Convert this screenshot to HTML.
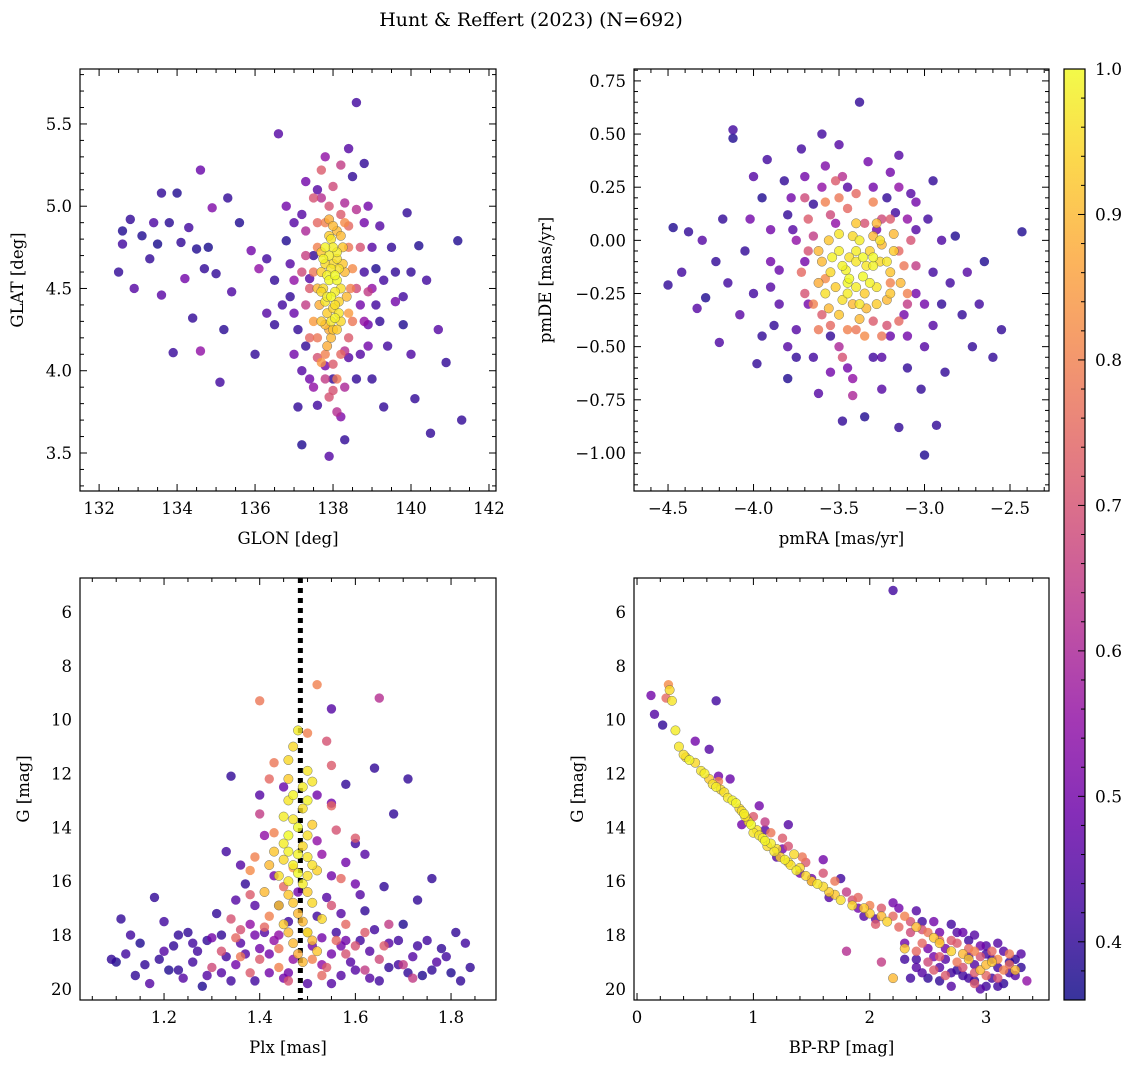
<!DOCTYPE html>
<html><head><meta charset="utf-8"><style>
html,body{margin:0;padding:0;background:#fff;}
svg{display:block;font-family:"DejaVu Serif","Liberation Serif",serif;}
</style></head><body>
<svg id="fig" width="1136" height="1068" viewBox="0 0 1136 1068" xmlns="http://www.w3.org/2000/svg">
<text x="531" y="26" font-size="19" text-anchor="middle">Hunt &amp; Reffert (2023) (N=692)</text>
</svg>
<script>
// ---- data (x, y, membership probability) ----
const tlStars = [[132.5,4.6,.4],[132.6,4.85,.38],[132.6,4.77,.42],[132.8,4.92,.4],[132.9,4.5,.45],[133.1,4.82,.38],[133.3,4.68,.4],[133.4,4.9,.44],[133.5,4.77,.37],[133.6,5.08,.4],[133.6,4.46,.46],[133.8,4.9,.39],[133.9,4.11,.41],[134.0,5.08,.38],[134.1,4.78,.4],[134.2,4.56,.5],[134.3,4.87,.42],[134.4,4.32,.4],[134.5,4.74,.38],[134.6,5.22,.48],[134.6,4.12,.55],[134.7,4.62,.4],[134.8,4.75,.37],[134.9,4.99,.52],[135.0,4.59,.4],[135.1,3.93,.42],[135.2,4.25,.39],[135.3,5.05,.4],[135.4,4.48,.44],[135.6,4.9,.38],[135.9,4.73,.5],[136.0,4.1,.4],[136.1,4.62,.55],[136.3,4.68,.42],[136.5,4.28,.4],[136.6,5.44,.45],[136.8,4.79,.38],[136.9,4.45,.4],[137.0,4.35,.48],[137.1,3.78,.4],[137.2,3.55,.38],[137.2,4.95,.45],[137.3,4.15,.4],[137.5,3.9,.55],[137.6,3.79,.42],[137.8,4.03,.5],[137.9,3.48,.45],[138.0,3.95,.4],[138.2,3.72,.52],[138.3,3.58,.4],[138.4,4.08,.45],[138.5,5.18,.4],[138.6,5.63,.42],[138.8,5.26,.4],[138.9,4.28,.48],[139.0,3.95,.4],[139.1,4.62,.38],[139.2,4.88,.45],[139.3,3.78,.4],[139.4,4.15,.42],[139.5,4.75,.4],[139.6,4.42,.5],[139.8,4.28,.38],[139.9,4.96,.4],[140.0,4.1,.44],[140.1,3.83,.4],[140.2,4.76,.38],[140.4,4.55,.42],[140.5,3.62,.4],[140.7,4.25,.45],[140.9,4.05,.4],[141.2,4.79,.38],[141.3,3.7,.4],[137.4,4.56,.45],[137.5,4.7,.4],[138.7,4.4,.5],[138.8,4.6,.42],[139.0,4.5,.55],[137.1,4.25,.4],[136.9,4.65,.45],[139.2,4.3,.4],[138.9,5.0,.5],[137.6,5.1,.45],[138.6,3.95,.4],
[137.3,4.4,.65],[137.5,5.05,.7],[137.7,5.22,.72],[138.0,5.12,.68],[138.3,5.02,.6],[138.6,4.98,.62],[138.7,4.75,.7],[138.9,4.48,.65],[137.4,4.2,.75],[137.6,4.08,.7],[138.0,4.04,.72],[138.3,4.12,.62],[138.5,4.3,.78],[137.2,4.6,.68],[137.3,4.85,.6],[137.9,3.84,.7],[138.2,5.25,.65],[137.8,4.9,.8],[138.4,4.88,.75],[138.5,4.62,.82],[137.5,4.3,.85],[138.1,3.95,.78],
[137.7,4.3,.92],[137.8,4.42,.97],[137.9,4.55,1],[138.0,4.65,.95],[138.1,4.72,.98],[137.7,4.6,.93],[137.8,4.75,.99],[138.2,4.5,.96],[138.3,4.6,.9],[138.0,4.38,.94],[137.9,4.25,.88],[138.2,4.3,.95],[137.6,4.5,.9],[138.1,4.55,1],[137.95,4.8,.97],[138.25,4.75,.92],[137.75,4.68,.99],[138.05,4.48,.98],[137.85,4.35,.93],[138.15,4.62,.96],[137.65,4.4,.88],[138.35,4.45,.9],[137.9,4.7,.98],[138.0,4.25,.92],[138.1,4.85,.9]];
const tlExtra = [[136.8,5.0,.5],[137.0,4.9,.45],[136.7,4.4,.42],[137.0,4.1,.5],[137.2,4.0,.45],[137.4,3.95,.5],[138.7,4.1,.45],[138.9,4.15,.5],[139.1,4.4,.42],[139.0,4.75,.45],[138.8,4.9,.5],[139.3,4.55,.42],[136.5,4.55,.4],[136.3,4.35,.45],[139.6,4.6,.4],[139.8,4.45,.42],[140.0,4.6,.4],[137.0,4.55,.55],[138.8,4.3,.55],[137.3,5.15,.5],[138.4,5.35,.45],[137.8,5.3,.55],
[137.4,4.5,.72],[137.5,4.6,.78],[137.6,4.75,.8],[137.6,4.9,.75],[137.9,5.0,.7],[138.2,4.95,.72],[138.4,4.75,.78],[138.45,4.5,.8],[138.4,4.2,.72],[138.2,4.1,.75],[137.8,4.1,.8],[137.6,4.2,.78],[138.6,4.5,.68],[137.3,4.7,.66],[138.0,3.88,.7],[138.1,3.75,.62],[137.8,3.95,.65],[138.3,3.9,.6],[137.7,5.05,.62],[138.3,4.9,.82],[137.7,4.05,.84],[138.4,4.35,.85],
[137.95,4.3,.97],[138.05,4.32,.99],[137.85,4.45,.98],[137.95,4.45,1],[138.05,4.4,.96],[138.15,4.42,.94],[137.85,4.58,.99],[137.95,4.62,.97],[138.05,4.58,1],[137.8,4.65,.95],[138.0,4.75,.98],[138.1,4.68,.96],[137.9,4.82,.93],[138.0,4.88,.9],[137.75,4.5,.95],[138.25,4.65,.92],[137.8,4.28,.9],[138.1,4.25,.93],[137.95,4.2,.9],[137.85,4.15,.88],[138.15,4.35,.97],[137.7,4.72,.92],[138.2,4.82,.9],[137.9,4.92,.88],[137.7,4.48,.95]];

const trStars = [[-4.5,-0.21,.4],[-4.47,0.06,.38],[-4.42,-0.15,.42],[-4.38,0.04,.4],[-4.33,-0.32,.45],[-4.28,-0.27,.38],[-4.22,-0.1,.4],[-4.2,-0.48,.44],[-4.18,0.1,.4],[-4.12,0.52,.42],[-4.12,0.48,.38],[-4.08,-0.35,.46],[-4.05,-0.05,.4],[-4.02,0.1,.5],[-3.98,-0.58,.4],[-3.95,0.2,.38],[-3.92,0.38,.42],[-3.88,-0.4,.4],[-3.85,-0.14,.48],[-3.82,0.28,.4],[-3.8,-0.65,.38],[-3.77,0.05,.45],[-3.75,-0.55,.4],[-3.72,0.43,.42],[-3.68,-0.3,.5],[-3.65,0.17,.4],[-3.62,-0.72,.45],[-3.58,0.35,.52],[-3.55,-0.45,.4],[-3.52,0.08,.55],[-3.48,-0.85,.4],[-3.45,0.25,.45],[-3.42,-0.65,.55],[-3.38,0.65,.4],[-3.35,-0.83,.38],[-3.33,0.37,.5],[-3.3,-0.55,.42],[-3.28,0.05,.5],[-3.25,-0.7,.45],[-3.22,0.2,.4],[-3.2,-0.45,.48],[-3.17,0.13,.42],[-3.15,-0.88,.4],[-3.12,-0.35,.5],[-3.1,-0.6,.4],[-3.08,0.22,.45],[-3.05,-0.25,.5],[-3.02,-0.7,.4],[-3.0,-1.01,.38],[-2.98,0.1,.42],[-2.95,-0.4,.45],[-2.93,-0.87,.4],[-2.9,0.0,.44],[-2.88,-0.62,.4],[-2.85,-0.2,.42],[-2.82,0.02,.38],[-2.78,-0.35,.4],[-2.75,-0.15,.45],[-2.72,-0.5,.4],[-2.68,-0.3,.42],[-2.65,-0.1,.38],[-2.6,-0.55,.4],[-2.55,-0.42,.4],[-2.43,0.04,.38],[-3.9,-0.22,.45],[-3.7,-0.1,.5],[-3.6,0.5,.42],[-3.15,0.4,.45],[-3.8,0.12,.4],[-4.0,-0.25,.42],[-2.95,0.28,.4],[-3.05,0.18,.5],
[-3.7,-0.25,.7],[-3.65,0.02,.65],[-3.6,-0.35,.72],[-3.55,0.12,.68],[-3.5,-0.5,.6],[-3.45,0.15,.75],[-3.4,-0.42,.78],[-3.35,0.08,.7],[-3.3,-0.38,.72],[-3.25,0.1,.68],[-3.2,-0.2,.8],[-3.15,-0.05,.75],[-3.1,-0.3,.65],[-3.58,-0.18,.82],[-3.22,-0.4,.7],[-3.48,0.3,.62],[-3.42,-0.73,.6],[-3.68,-0.05,.7],[-3.05,-0.12,.65],
[-3.55,-0.15,.95],[-3.5,-0.05,.98],[-3.45,-0.2,1],[-3.4,-0.1,.97],[-3.35,-0.25,.93],[-3.3,-0.12,.99],[-3.25,-0.02,.9],[-3.2,-0.15,.92],[-3.48,-0.28,.96],[-3.38,0.0,.98],[-3.32,-0.05,.94],[-3.42,-0.3,.9],[-3.52,-0.22,.93],[-3.28,-0.22,.97],[-3.6,-0.1,.9],[-3.36,-0.17,1],[-3.44,-0.08,.96],[-3.22,-0.28,.9],[-3.18,-0.05,.93],[-3.56,0.0,.92],[-3.3,0.02,.9],[-3.46,-0.14,.99],[-3.26,-0.1,.95],[-3.4,-0.22,.98],[-3.34,-0.32,.9],[-3.62,-0.2,.88],[-3.14,-0.2,.9]];
const trExtra = [[-4.3,0.0,.45],[-4.15,-0.2,.42],[-4.0,0.3,.45],[-3.95,-0.45,.4],[-3.9,0.05,.5],[-3.85,-0.3,.45],[-3.78,0.2,.5],[-3.75,-0.42,.45],[-3.7,0.3,.5],[-3.65,-0.55,.42],[-3.6,0.25,.55],[-3.5,0.45,.45],[-3.45,-0.6,.5],[-3.3,0.25,.5],[-3.25,-0.55,.45],[-3.15,0.25,.55],[-3.1,-0.45,.5],[-3.05,0.05,.45],[-3.0,-0.3,.5],[-2.95,-0.15,.42],[-3.0,-0.5,.45],[-2.9,-0.3,.4],[-3.9,-0.1,.5],[-3.8,-0.5,.45],[-3.1,0.1,.55],[-3.75,0.0,.55],[-3.55,-0.62,.5],[-3.2,0.32,.5],
[-3.72,-0.15,.75],[-3.68,0.1,.72],[-3.62,-0.42,.78],[-3.58,0.18,.8],[-3.5,0.2,.78],[-3.4,0.22,.75],[-3.3,0.18,.8],[-3.2,0.1,.72],[-3.12,-0.12,.78],[-3.1,-0.25,.8],[-3.15,-0.38,.75],[-3.25,-0.45,.78],[-3.35,-0.45,.82],[-3.45,-0.42,.8],[-3.55,-0.4,.75],[-3.65,-0.3,.8],[-3.08,0.0,.7],[-3.48,-0.55,.7],[-3.7,0.2,.68],[-3.52,0.28,.72],
[-3.58,-0.25,.96],[-3.54,-0.08,.99],[-3.5,0.03,.97],[-3.45,-0.25,.98],[-3.42,0.02,.95],[-3.38,-0.3,.97],[-3.36,-0.08,1],[-3.32,-0.2,.99],[-3.28,-0.3,.93],[-3.26,0.0,.96],[-3.22,-0.1,.97],[-3.2,-0.25,.92],[-3.48,-0.12,.99],[-3.44,-0.18,1],[-3.4,-0.05,.98],[-3.34,-0.12,.97],[-3.5,-0.35,.92],[-3.38,-0.37,.9],[-3.3,-0.08,1],[-3.62,-0.05,.9],[-3.18,0.03,.9],[-3.4,0.08,.92],[-3.28,0.08,.9],[-3.56,-0.32,.9]];

const blStars = [[1.09,18.9,.4],[1.1,19.0,.38],[1.11,17.4,.4],[1.12,18.7,.42],[1.14,19.5,.4],[1.15,18.3,.38],[1.17,19.8,.45],[1.18,16.6,.4],[1.19,18.9,.4],[1.2,17.5,.42],[1.21,19.3,.38],[1.22,18.4,.4],[1.24,19.6,.45],[1.25,17.9,.4],[1.27,18.6,.42],[1.28,19.9,.38],[1.3,18.1,.5],[1.31,17.2,.4],[1.32,19.4,.45],[1.33,18.8,.42],[1.34,12.1,.4],[1.35,19.1,.5],[1.36,18.3,.45],[1.37,16.1,.4],[1.38,17.6,.55],[1.39,19.7,.42],[1.4,18.5,.5],[1.41,14.3,.55],[1.41,17.9,.45],[1.42,19.4,.5],[1.43,18.2,.55],[1.44,16.9,.45],[1.45,19.6,.5],[1.46,17.5,.42],[1.47,18.9,.55],[1.5,19.8,.45],[1.51,18.4,.5],[1.52,17.3,.42],[1.53,19.1,.55],[1.54,16.6,.45],[1.55,18.7,.5],[1.56,17.9,.42],[1.57,19.5,.45],[1.58,12.4,.4],[1.58,18.2,.5],[1.6,14.6,.42],[1.6,19.3,.45],[1.62,17.1,.4],[1.63,18.6,.45],[1.64,11.8,.4],[1.65,19.7,.42],[1.66,16.2,.4],[1.67,18.3,.45],[1.68,13.5,.4],[1.69,19.1,.42],[1.7,17.6,.38],[1.71,12.2,.4],[1.72,18.8,.45],[1.73,16.7,.4],[1.74,19.5,.38],[1.75,18.2,.42],[1.76,15.9,.4],[1.77,19.0,.45],[1.78,18.5,.4],[1.8,19.4,.38],[1.81,17.9,.4],[1.83,18.3,.42],[1.84,19.2,.4],[1.55,9.6,.45],[1.52,12.8,.5],[1.45,12.5,.48],[1.53,15.0,.55],[1.48,16.4,.5],[1.36,15.4,.45],[1.58,15.3,.5],[1.61,16.5,.45],[1.29,18.2,.4],[1.26,19.0,.42],[1.23,18.0,.4],
[1.4,9.3,.78],[1.52,8.7,.8],[1.65,9.2,.62],[1.43,11.6,.78],[1.55,11.7,.72],[1.4,13.5,.65],[1.6,14.4,.72],[1.38,15.6,.82],[1.45,16.2,.75],[1.55,16.9,.7],[1.42,17.3,.8],[1.35,18.1,.75],[1.4,18.9,.72],[1.5,17.9,.78],[1.58,18.7,.7],[1.65,18.9,.68],[1.7,19.1,.65],[1.62,17.9,.72],[1.36,17.8,.7],[1.44,19.2,.8],[1.53,19.5,.75],[1.32,18.6,.7],[1.47,15.5,.85],[1.5,10.5,.8],[1.56,14.1,.7],[1.66,18.4,.72],[1.72,19.6,.65],[1.3,19.2,.68],
[1.48,10.4,.98],[1.46,11.5,.95],[1.5,11.9,.97],[1.47,12.8,.99],[1.49,13.3,.96],[1.45,13.6,.98],[1.51,13.9,.93],[1.46,14.3,1],[1.49,14.7,.95],[1.43,14.9,.92],[1.5,15.1,.97],[1.47,15.4,.99],[1.52,15.6,.94],[1.44,15.8,.96],[1.49,16.1,.98],[1.46,16.5,.92],[1.51,16.8,.95],[1.48,17.2,.9],[1.45,17.6,.93],[1.5,17.9,.97],[1.47,18.3,.9],[1.52,18.6,.92],[1.49,19.0,.9],[1.46,13.0,.97],[1.48,14.0,1],[1.5,15.8,.96],[1.44,16.9,.93],[1.53,17.4,.95],[1.42,15.4,.9],[1.41,16.4,.9]];
const blExtra = [[1.13,18.0,.42],[1.16,19.1,.4],[1.2,18.6,.45],[1.23,19.3,.4],[1.26,18.3,.42],[1.29,19.5,.45],[1.32,18.0,.4],[1.34,19.7,.42],[1.37,18.7,.45],[1.39,18.0,.5],[1.42,18.7,.5],[1.44,18.0,.55],[1.46,19.4,.5],[1.53,18.1,.5],[1.55,19.8,.45],[1.57,18.4,.5],[1.59,19.0,.45],[1.61,18.2,.42],[1.63,19.6,.45],[1.64,17.8,.42],[1.67,19.2,.4],[1.69,18.2,.42],[1.71,19.4,.4],[1.73,18.4,.42],[1.76,19.3,.4],[1.79,18.8,.42],[1.82,19.7,.4],[1.55,15.8,.5],[1.57,17.2,.45],[1.43,15.8,.5],[1.39,16.9,.45],[1.6,16.1,.5],[1.52,14.5,.55],[1.4,12.8,.45],[1.55,13.1,.5],[1.62,15.0,.45],[1.35,16.7,.45],[1.33,14.9,.42],
[1.38,16.5,.72],[1.41,17.7,.75],[1.44,18.5,.78],[1.56,18.2,.75],[1.54,19.2,.72],[1.6,18.4,.7],[1.62,19.3,.65],[1.38,19.4,.72],[1.46,19.7,.7],[1.57,15.9,.75],[1.43,14.2,.8],[1.55,13.2,.75],[1.39,15.1,.8],[1.58,17.6,.75],[1.34,17.4,.7],[1.67,17.6,.65],[1.42,12.2,.75],[1.54,10.8,.7],[1.36,18.8,.78],[1.51,18.9,.8],
[1.47,11.0,.95],[1.51,12.3,.97],[1.46,12.2,.93],[1.5,13.0,.99],[1.47,13.7,.97],[1.5,14.3,.96],[1.45,14.6,.98],[1.48,15.0,.99],[1.45,15.2,.95],[1.51,15.4,.96],[1.48,15.7,1],[1.46,16.0,.97],[1.5,16.4,.93],[1.47,16.8,.92],[1.49,17.5,.9],[1.51,18.2,.9],[1.46,17.9,.9],[1.48,18.7,.88],[1.49,12.5,.98],[1.46,14.9,.99]];

const brStars = [[0.28,8.9,.95],[0.3,9.3,.97],[0.33,10.4,.98],[0.4,11.3,.96],[0.45,11.5,.99],[0.5,11.6,.95],[0.55,11.9,.97],[0.62,12.2,.93],[0.68,12.5,.98],[0.75,12.7,.96],[0.82,13.0,.99],[0.88,13.3,.95],[0.93,13.6,.97],[0.98,13.9,1],[1.03,14.1,.96],[1.08,14.4,.98],[1.12,14.7,.95],[1.18,14.9,.97],[1.23,15.1,.93],[1.3,15.3,.96],[1.37,15.6,.98],[1.45,15.8,.95],[1.55,16.1,.97],[1.65,16.4,.93],[1.75,16.7,.96],[1.85,16.9,.95],[2.0,17.2,.93],[2.15,17.5,.94],[2.3,18.5,.92],[2.2,19.6,.9],[2.55,18.1,.92],[2.7,18.6,.94],[2.85,18.9,.93],[2.95,19.3,.9],[3.05,19.0,.92],[3.25,19.3,.9],[1.0,14.2,.97],[1.15,14.6,.98],[0.9,13.4,.96],[1.35,15.0,.95],
[0.27,8.7,.82],[0.25,9.2,.75],[0.7,12.3,.8],[0.95,13.7,.7],[1.1,13.8,.65],[1.25,14.4,.72],[1.42,15.1,.78],[1.6,15.7,.7],[1.9,16.6,.75],[2.1,17.0,.72],[2.3,17.3,.8],[2.45,17.8,.7],[2.6,18.2,.78],[2.75,18.3,.72],[2.9,18.6,.8],[3.0,19.5,.75],[3.1,18.9,.82],[3.2,18.7,.78],[2.8,19.2,.7],[2.65,19.5,.72],[2.5,19.0,.68],[2.4,18.6,.75],[1.8,16.4,.65],[1.5,16.0,.7],[2.05,17.6,.72],[2.35,17.9,.68],[2.9,19.8,.72],[3.15,19.3,.8],
[0.12,9.1,.5],[0.15,9.8,.45],[0.22,10.2,.4],[0.5,10.8,.5],[0.68,9.3,.42],[0.62,11.1,.45],[0.8,12.2,.48],[1.05,13.2,.5],[1.3,13.9,.45],[1.6,15.2,.5],[1.75,15.9,.42],[1.8,18.6,.62],[2.1,19.0,.65],[2.2,5.2,.42],[2.2,16.8,.5],[2.4,17.1,.45],[2.55,17.5,.5],[2.7,17.6,.42],[2.8,17.9,.48],[2.9,18.0,.45],[2.95,18.4,.5],[3.0,18.7,.42],[3.1,18.3,.45],[3.2,19.0,.4],[3.3,18.7,.45],[3.35,19.7,.55],[2.85,19.6,.42],[2.7,19.9,.45],[2.6,19.7,.4],[2.45,19.4,.45],[2.4,18.9,.42],[2.3,18.3,.5],[2.65,18.9,.45],[2.75,19.3,.4],[2.95,20.0,.45],[3.05,19.6,.42],[3.15,19.8,.4],[3.25,19.5,.45],[2.5,18.5,.5],[2.35,19.6,.42],[1.95,17.3,.45],[1.5,15.9,.5],[1.2,15.1,.45],[0.9,13.9,.5],[2.9,19.1,.45],[3.1,19.9,.42]];
const brExtra = [[0.36,11.0,.97],[0.42,11.4,.95],[0.58,12.0,.98],[0.65,12.4,.96],[0.78,12.9,.97],[0.85,13.1,.99],[0.92,13.5,.98],[0.96,13.8,.96],[1.05,14.3,.97],[1.1,14.5,.99],[1.2,14.8,.96],[1.27,15.2,.98],[1.4,15.5,.95],[1.5,16.0,.93],[1.6,16.2,.95],[1.7,16.5,.92],[1.95,17.0,.93],[2.1,17.3,.9],[2.4,17.7,.9],[2.6,18.3,.92],[2.8,18.7,.9],[3.0,19.1,.9],[0.72,12.6,.95],[1.32,15.4,.96],
[1.0,13.6,.72],[1.15,14.2,.78],[1.3,14.7,.7],[1.45,15.3,.72],[1.7,16.0,.78],[2.0,16.9,.8],[2.2,17.3,.75],[2.35,17.5,.7],[2.5,17.9,.78],[2.7,18.2,.72],[2.85,18.5,.75],[2.95,18.8,.7],[3.05,18.6,.75],[2.6,18.8,.72],[2.75,19.0,.78],[2.9,19.4,.72],[3.1,19.6,.7],[2.45,18.3,.75],[2.55,19.3,.72],[3.2,19.1,.75],[1.85,16.7,.7],[2.25,17.7,.75],
[1.4,15.7,.5],[1.65,16.6,.45],[1.9,17.0,.5],[2.05,17.4,.45],[2.25,17.0,.5],[2.45,17.5,.42],[2.6,17.9,.5],[2.75,17.9,.45],[2.85,18.2,.42],[3.0,18.4,.45],[3.05,18.9,.42],[3.15,18.6,.45],[3.2,19.4,.42],[3.3,19.2,.4],[2.8,19.5,.42],[2.6,19.2,.45],[2.5,19.6,.4],[2.7,19.4,.42],[2.9,19.7,.4],[3.0,19.9,.42],[2.4,19.2,.45],[2.3,18.9,.42],[2.55,18.8,.5],[2.85,18.8,.45],[3.1,19.2,.42],[1.25,14.8,.5],[1.1,14.1,.45],[0.7,12.1,.5],[2.65,18.5,.5],[3.25,18.9,.4]];

const tlXTicks = [132,134,136,138,140,142];
const tlYTicks = [3.5,4.0,4.5,5.0,5.5];
const trXTicks = [-4.5,-4.0,-3.5,-3.0,-2.5];
const trYTicks = [-1.0,-0.75,-0.5,-0.25,0.0,0.25,0.5,0.75];
const blXTicks = [1.2,1.4,1.6,1.8];
const gTicks = [6,8,10,12,14,16,18,20];
const brXTicks = [0,1,2,3];
const cbTicks = [0.4,0.5,0.6,0.7,0.8,0.9,1.0];
const plxMean = [1.485];

const svg = document.getElementById('fig');
const NS = 'http://www.w3.org/2000/svg';
function mk(tag, attrs, parent){
  const e = document.createElementNS(NS, tag);
  for (const k in attrs) e.setAttribute(k, attrs[k]);
  (parent||svg).appendChild(e);
  return e;
}
const PMIN = 0.36, PMAX = 1.0;
const stops = ['#0d0887','#41049d','#6a00a8','#8f0da4','#b12a90','#cc4778','#e16462','#f2844b','#fca636','#fcce25','#f0f921'];
function hex(h){return [parseInt(h.slice(1,3),16),parseInt(h.slice(3,5),16),parseInt(h.slice(5,7),16)];}
function plasma(t){
  t = Math.max(0,Math.min(1,t))*10; const i = Math.min(9,Math.floor(t)); const f = t-i;
  const a = hex(stops[i]), b = hex(stops[i+1]);
  return 'rgb('+a.map((v,k)=>Math.round(v+(b[k]-v)*f)).join(',')+')';
}
function fmt(v, d){ const s = v.toFixed(d); return s.replace('-', '\u2212'); }

function panel(o){
  const g = mk('g', {});
  
  
  const sx = v => o.x0 + (v - o.xmin)/(o.xmax - o.xmin)*(o.x1 - o.x0);
  const sy = v => o.y1 - (v - o.ymin)/(o.ymax - o.ymin)*(o.y1 - o.y0);
  const clipId = o.name + '-clip';
  const cp = mk('clipPath', {id: clipId}, g);
  mk('rect', {x:o.x0, y:o.y0, width:o.x1-o.x0, height:o.y1-o.y0}, cp);
  const pts = mk('g', {'clip-path':'url(#'+clipId+')'}, g);
  
  
  const data = o.data.slice().sort((a,b)=>a[2]-b[2]);
  data.forEach(d => {
    const t = (d[2]-PMIN)/(PMAX-PMIN);
    const c = mk('circle', {cx:sx(d[0]), cy:sy(d[1]), r:4.7, fill:plasma(t), 'fill-opacity':0.8,
      stroke: d[2] > 0.85 ? '#555' : 'none', 'stroke-width':0.4});
    
    
  });
  if (o.vline) o.vline.forEach(v => {
    const l = mk('line', {x1:sx(v), x2:sx(v), y1:o.y0, y2:o.y1, stroke:'#000', 'stroke-width':5, 'stroke-dasharray':'5 5'}, pts);
    
    
  });
  const frame = mk('rect', {x:o.x0, y:o.y0, width:o.x1-o.x0, height:o.y1-o.y0, fill:'none', stroke:'#000', 'stroke-width':1.2}, g);
  
  
  const tk = mk('g', {stroke:'#000', 'stroke-width':1}, g);
  
  
  const xs = o.xt[1]-o.xt[0], ys = o.yt[1]-o.yt[0];
  for (let v = o.xt[0] - 3*xs; v <= o.xmax + 1e-9; v += xs/o.xdiv) {
    if (v < o.xmin - 1e-9) continue;
    const X = sx(v); const maj = Math.abs((v - o.xt[0])/xs - Math.round((v - o.xt[0])/xs)) < 1e-6;
    const L = maj ? 7 : 4;
    mk('line', {x1:X, x2:X, y1:o.y1, y2:o.y1-L}, tk); mk('line', {x1:X, x2:X, y1:o.y0, y2:o.y0+L}, tk);
  }
  for (let v = o.yt[0] - 3*ys; v <= o.ymax + 1e-9; v += ys/o.ydiv) {
    if (v < o.ymin - 1e-9) continue;
    const Y = sy(v); const maj = Math.abs((v - o.yt[0])/ys - Math.round((v - o.yt[0])/ys)) < 1e-6;
    const L = maj ? 7 : 4;
    mk('line', {x1:o.x0, x2:o.x0+L, y1:Y, y2:Y}, tk); mk('line', {x1:o.x1, x2:o.x1-L, y1:Y, y2:Y}, tk);
  }
  o.xt.forEach(v => {
    const t = mk('text', {x:sx(v), y:o.y1+23, 'font-size':16.5, 'text-anchor':'middle'}, g);
    t.textContent = fmt(v, o.xd);
    
    
  });
  o.yt.forEach(v => {
    const t = mk('text', {x:o.x0-8, y:sy(v)+6, 'font-size':16.5, 'text-anchor':'end'}, g);
    t.textContent = fmt(v, o.yd);
    
    
  });
  const xl = mk('text', {x:(o.x0+o.x1)/2, y:o.y1+53, 'font-size':16.5, 'text-anchor':'middle'}, g);
  xl.textContent = o.xlabel;
  
  
  const yx = o.ylx, yy = (o.y0+o.y1)/2;
  const yl = mk('text', {x:yx, y:yy, 'font-size':16.5, 'text-anchor':'middle', transform:'rotate(-90 '+yx+' '+yy+')'}, g);
  yl.textContent = o.ylabel;
  
  
}

panel({name:'glon-glat-panel', data:tlStars.concat(tlExtra), x0:80, x1:496, y0:69, y1:491, xmin:131.51, xmax:142.18, ymin:3.269, ymax:5.834,
  xt:tlXTicks, yt:tlYTicks, xdiv:4, ydiv:5, xd:0, yd:1, xlabel:'GLON [deg]', ylabel:'GLAT [deg]', ylx:23});
panel({name:'proper-motion-panel', data:trStars.concat(trExtra), x0:634, x1:1049, y0:69, y1:491, xmin:-4.699, xmax:-2.272, ymin:-1.179, ymax:0.806,
  xt:trXTicks, yt:trYTicks, xdiv:5, ydiv:5, xd:1, yd:2, xlabel:'pmRA [mas/yr]', ylabel:'pmDE [mas/yr]', ylx:551});
panel({name:'parallax-mag-panel', data:blStars.concat(blExtra), x0:80, x1:496, y0:578, y1:1000, xmin:1.0243, xmax:1.894, ymin:20.41, ymax:4.74,
  xt:blXTicks, yt:gTicks, xdiv:4, ydiv:4, xd:1, yd:0, xlabel:'Plx [mas]', ylabel:'G [mag]', ylx:29, vline:plxMean});
panel({name:'cmd-panel', data:brStars.concat(brExtra), x0:634, x1:1049, y0:578, y1:1000, xmin:-0.026, xmax:3.54, ymin:20.41, ymax:4.74,
  xt:brXTicks, yt:gTicks, xdiv:5, ydiv:4, xd:0, yd:0, xlabel:'BP-RP [mag]', ylabel:'G [mag]', ylx:583});

(function(){
  const cx0 = 1064, cx1 = 1085, cy0 = 69, cy1 = 1000;
  const cb = mk('g', {});
  
  
  const defs = mk('defs', {}, cb);
  const lg = mk('linearGradient', {id:'cbgrad', x1:0, y1:1, x2:0, y2:0}, defs);
  for (let i = 0; i <= 20; i++) {
    mk('stop', {offset:(i*5)+'%', 'stop-color':plasma(i/20)}, lg);
  }
  mk('rect', {x:cx0, y:cy0, width:cx1-cx0, height:cy1-cy0, fill:'url(#cbgrad)', 'fill-opacity':0.82}, cb);
  mk('rect', {x:cx0, y:cy0, width:cx1-cx0, height:cy1-cy0, fill:'none', stroke:'#000', 'stroke-width':1.2}, cb);
  const sy = v => cy1 - (v - PMIN)/(PMAX-PMIN)*(cy1-cy0);
  for (let v = 0.36; v <= 1.0001; v += 0.02) {
    const Y = sy(v); const maj = Math.abs(v*10 - Math.round(v*10)) < 1e-6;
    mk('line', {x1:cx1, x2:cx1-(maj?7:4), y1:Y, y2:Y, stroke:'#000', 'stroke-width':1}, cb);
  }
  cbTicks.forEach(v => {
    const t = mk('text', {x:cx1+10, y:sy(v)+6, 'font-size':17}, cb);
    t.textContent = v.toFixed(1);
    
    
  });
})();
</script>
</body></html>
